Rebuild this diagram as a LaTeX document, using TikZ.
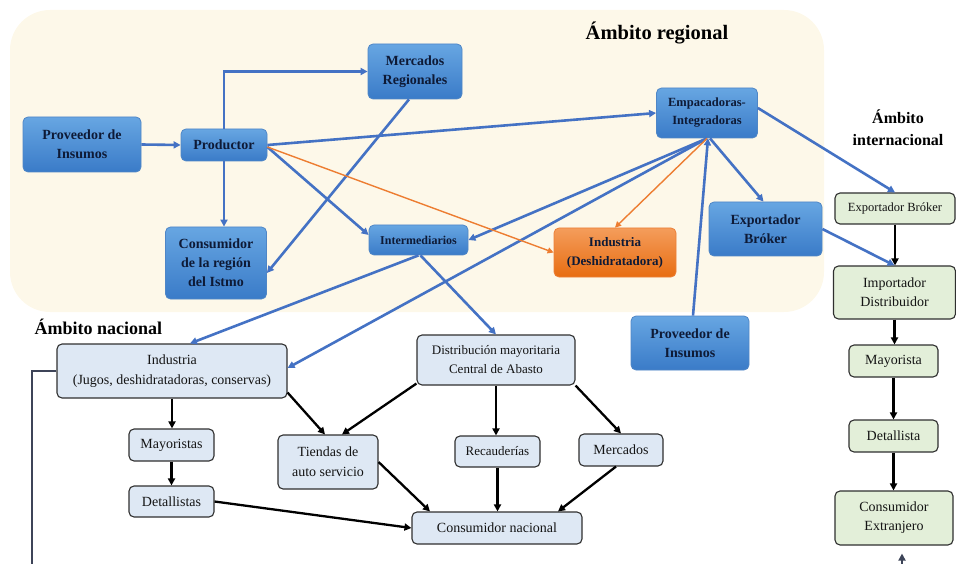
\documentclass[tikz,border=0pt]{standalone}
\usepackage{fontspec}
\setmainfont{Liberation Serif}
\usetikzlibrary{arrows.meta,calc}
\definecolor{cream}{HTML}{FDF8E9}
\definecolor{bTop}{HTML}{67A6E2}
\definecolor{bBot}{HTML}{3A7BC8}
\definecolor{bBorder}{HTML}{4F86C6}
\definecolor{bText}{HTML}{0E1A36}
\definecolor{oTop}{HTML}{F49D5B}
\definecolor{oBot}{HTML}{E86D12}
\definecolor{oBorder}{HTML}{EC8038}
\definecolor{natFill}{HTML}{DEE8F4}
\definecolor{intFill}{HTML}{E3EFD9}
\definecolor{boxLine}{HTML}{2F2F2F}
\definecolor{arrBlue}{HTML}{4472C4}
\definecolor{arrOrange}{HTML}{ED7D31}
\definecolor{darkLine}{HTML}{3D4458}
\begin{document}
\begin{tikzpicture}[x=1pt,y=-1pt,
  wh/.style 2 args={minimum width=#1, minimum height=#2},
  basebox/.style={rounded corners=5pt, align=center, inner sep=0pt},
  bluebox/.style={basebox, top color=bTop, bottom color=bBot, draw=bBorder, line width=0.8pt, text=bText,
     font=\bfseries\fontsize{14}{19}\selectfont},
  orangebox/.style={basebox, top color=oTop, bottom color=oBot, draw=oBorder, line width=0.8pt, text=bText,
     font=\bfseries\fontsize{13}{19}\selectfont},
  natbox/.style={basebox, fill=natFill, draw=boxLine, line width=1.1pt, text=black!92,
     font=\fontsize{14}{20}\selectfont},
  intbox/.style={basebox, fill=intFill, draw=boxLine, line width=1.1pt, text=black!92,
     font=\fontsize{14}{19}\selectfont},
  title/.style={font=\bfseries, text=black, align=center},
  bluearr/.style={draw=arrBlue, line width=2.6pt, -{Triangle[length=7pt,width=7pt]}},
  orarr/.style={draw=arrOrange, line width=1.4pt, -{Triangle[length=6pt,width=6pt]}},
  blkarr/.style={draw=black, line width=2.3pt, -{Triangle[length=7pt,width=7pt]}},
  darkconn/.style={draw=darkLine, line width=2.7pt}
]
\useasboundingbox (0,0) rectangle (956,564);
\fill[cream, rounded corners=40pt] (10,10) rectangle (824,312);

% titles
\node[title, font=\bfseries\fontsize{20.5}{24}\selectfont] (treg) at (657,33) {Ámbito regional};
\node[title, font=\bfseries\fontsize{16}{22}\selectfont] (tint) at (898,128) {Ámbito\\internacional};
\node[title, font=\bfseries\fontsize{18}{22}\selectfont, anchor=west] (tnac) at (31,327) {Ámbito nacional};

% regional (blue) nodes
\node[bluebox, wh={118pt}{55pt}] (provL) at (82,144.5) {Proveedor de\\Insumos};
\node[bluebox, wh={86pt}{32pt}] (prod) at (224,145) {Productor};
\node[bluebox, wh={94pt}{55pt}] (merc) at (415,71.5) {Mercados\\Regionales};
\node[bluebox, wh={101pt}{72pt}] (consI) at (216,263) {Consumidor\\de la región\\del Istmo};
\node[bluebox, wh={99pt}{30pt}, font=\bfseries\fontsize{12}{18}\selectfont] (inter) at (418.5,240) {Intermediarios};
\node[bluebox, wh={101pt}{50pt}, font=\bfseries\fontsize{12.5}{18}\selectfont] (emp) at (707,113) {Empacadoras-\\Integradoras};
\node[orangebox, wh={122pt}{49pt}] (indD) at (615,252.5) {Industria\\(Deshidratadora)};
\node[bluebox, wh={113pt}{54pt}] (expB) at (765.5,229) {Exportador\\Bróker};
\node[bluebox, wh={118pt}{54pt}] (provB) at (690,343) {Proveedor de\\Insumos};

% international (green) nodes
\node[intbox, wh={120pt}{31pt}, font=\fontsize{12.5}{18}\selectfont] (iexp) at (895,208.5) {Exportador Bróker};
\node[intbox, wh={122pt}{53pt}] (iimp) at (894.5,292.5) {Importador\\Distribuidor};
\node[intbox, wh={89pt}{32pt}] (imay) at (893.5,361) {Mayorista};
\node[intbox, wh={89pt}{32pt}] (idet) at (893.5,436) {Detallista};
\node[intbox, wh={118pt}{54pt}] (icons) at (894,518) {Consumidor\\Extranjero};

% national nodes
\node[natbox, wh={230pt}{54pt}] (nind) at (172,371) {Industria\\(Jugos, deshidratadoras, conservas)};
\node[natbox, wh={85pt}{32pt}] (nmay) at (171.5,445) {Mayoristas};
\node[natbox, wh={85pt}{31pt}] (ndet) at (171.5,501.5) {Detallistas};
\node[natbox, wh={100pt}{54pt}] (ntie) at (328,462) {Tiendas de\\auto servicio};
\node[natbox, wh={158pt}{50pt}, font=\fontsize{13}{19}\selectfont] (ndis) at (496,360) {Distribución mayoritaria\\Central de Abasto};
\node[natbox, wh={85pt}{31pt}, font=\fontsize{13}{18}\selectfont] (nrec) at (497.5,451.5) {Recauderías};
\node[natbox, wh={84pt}{32pt}] (nmer) at (621,450) {Mercados};
\node[natbox, wh={170pt}{32pt}] (ncons) at (497,528) {Consumidor nacional};

% free ends
\coordinate (lb) at (32,570);
\coordinate (rb) at (902,570);

% blue connectors
\draw[bluearr] (provL.east) -- (prod.west);
\draw[bluearr] (prod.north) |- (merc.west);
\draw[bluearr] (prod.south) -- (prod.south |- consI.north);
\draw[bluearr] (prod.east) -- (emp.west);
\draw[bluearr] ([yshift=-2pt]prod.east) -- ([yshift=5pt]inter.west);
\draw[bluearr] ([xshift=-6pt]merc.south) -- ([yshift=-10pt]consI.east);
\draw[bluearr] (emp.south) -- (inter.east);
\draw[bluearr] (emp.south) -- ([yshift=3pt]nind.east);
\draw[bluearr] ([xshift=3pt]emp.south) -- ([xshift=-2pt]expB.north);
\draw[bluearr] ([yshift=5pt]emp.east) -- (iexp.north);
\draw[bluearr] ([xshift=3pt]provB.north) -- ([xshift=1pt]emp.south);
\draw[bluearr] (inter.south) -- ([xshift=18pt]nind.north);
\draw[bluearr] ([xshift=2pt]inter.south) -- (ndis.north);
\draw[bluearr] (expB.east) -- (iimp.north);

% orange connectors
\draw[orarr] ([yshift=-2pt]prod.east) -- (indD.west);
\draw[orarr] (emp.south) -- (indD.north);

% international black
\draw[blkarr] (iexp.south) -- (iexp.south |- iimp.north);
\draw[blkarr] (iimp.south) -- (iimp.south |- imay.north);
\draw[blkarr] (imay.south) -- (imay.south |- idet.north);
\draw[blkarr] (idet.south) -- (idet.south |- icons.north);

% national black
\draw[blkarr] (nind.south) -- (nind.south |- nmay.north);
\draw[blkarr] (nmay.south) -- (nmay.south |- ndet.north);
\draw[blkarr] (ndet.east) -- (ncons.west);
\draw[blkarr] ([yshift=6pt]nind.south east) -- ([xshift=-3pt]ntie.north);
\draw[blkarr] ([yshift=2pt]ndis.south west) -- ([xshift=14pt]ntie.north);
\draw[blkarr] (ndis.south) -- (ndis.south |- nrec.north);
\draw[blkarr] (ndis.south east) -- (nmer.north);
\draw[blkarr] (ntie.east) -- ([xshift=-67pt]ncons.north);
\draw[blkarr] (nrec.south) -- (nrec.south |- ncons.north);
\draw[blkarr] ([xshift=-5pt]nmer.south) -- ([xshift=61pt]ncons.north);

% dark connectors
\draw[darkconn] (nind.west) -| (lb);
\draw[darkconn, -{Triangle[length=7pt,width=7pt]}] (rb) -- ([xshift=8pt,yshift=-8pt]icons.south);
\end{tikzpicture}
\end{document}
